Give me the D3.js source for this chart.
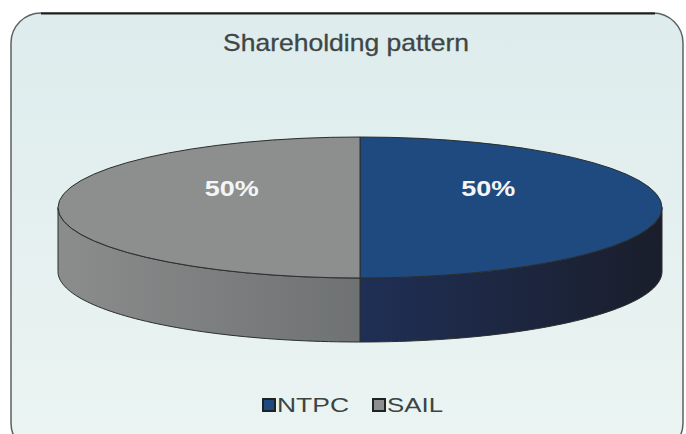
<!DOCTYPE html>
<html>
<head>
<meta charset="utf-8">
<script src="https://cdn.jsdelivr.net/npm/d3@7"></script>
<style>
  body { margin: 0; background: #fff; }
  svg { display: block; font-family: "Liberation Sans", Arial, sans-serif; }
</style>
</head>
<body>
<div id="vis"></div>
<script>
// chart data
let categories = ['NTPC', 'SAIL'];
let values = [50, 50];
let topColors = ['#1f4a80', '#8d8f8f'];
let sideColors = [['#1f2f55', '#1a1e2b'], ['#6f7272', '#8b8d8d']];
let title = 'Shareholding pattern';

let width = 686, height = 434;

let svg = d3.select('#vis')
    .append('svg')
    .attr('width', width)
    .attr('height', height);

let defs = svg.append('defs');

let bg = defs.append('linearGradient')
    .attr('id', 'bg')
    .attr('x1', 0).attr('y1', 0).attr('x2', 0).attr('y2', 1);
bg.append('stop').attr('offset', '0%').attr('stop-color', '#deeced');
bg.append('stop').attr('offset', '100%').attr('stop-color', '#ebf4f2');

// frame
svg.append('rect')
    .attr('x', 11)
    .attr('y', 13)
    .attr('width', 672)
    .attr('height', 440)
    .attr('rx', 30)
    .attr('fill', 'url(#bg)')
    .attr('stroke', '#5c6262')
    .attr('stroke-width', 1.5);

svg.append('path')
    .attr('d', 'M41,13.5 H655')
    .attr('stroke', '#1c1f1f')
    .attr('stroke-width', 2);

// title
svg.append('text')
    .attr('x', 346)
    .attr('y', 51)
    .attr('text-anchor', 'middle')
    .attr('font-size', 24)
    .attr('fill', '#3e4646')
    .attr('stroke', '#3e4646')
    .attr('stroke-width', 0.3)
    .attr('textLength', 246)
    .attr('lengthAdjust', 'spacingAndGlyphs')
    .text(title);

// 3d pie geometry
let cx = 360, cy = 207.5, rx = 302, ry = 70.5, depth = 64;

let pie = d3.pie().sort(null).startAngle(0).endAngle(2 * Math.PI);
let arcs = pie(values);

let px = a => cx + rx * Math.sin(a);
let py = a => cy - ry * Math.cos(a);

// side gradients
arcs.forEach(function(d, i) {
    let g = defs.append('linearGradient')
        .attr('id', 'side' + i)
        .attr('gradientUnits', 'userSpaceOnUse')
        .attr('x1', i === 0 ? cx : cx - rx)
        .attr('x2', i === 0 ? cx + rx : cx)
        .attr('y1', 0).attr('y2', 0);
    g.append('stop').attr('offset', '0%').attr('stop-color', i === 0 ? sideColors[i][0] : sideColors[i][1]);
    g.append('stop').attr('offset', '100%').attr('stop-color', i === 0 ? sideColors[i][1] : sideColors[i][0]);
});

// side walls (front half only)
let line = d3.line();
arcs.forEach(function(d, i) {
    let a0 = Math.max(d.startAngle, Math.PI / 2);
    let a1 = Math.min(d.endAngle, 3 * Math.PI / 2);
    if (a1 <= a0) return;
    let n = 60;
    let topPts = d3.range(n + 1).map(k => a0 + (a1 - a0) * k / n).map(a => [px(a), py(a)]);
    let botPts = topPts.slice().reverse().map(p => [p[0], p[1] + depth]);
    svg.append('path')
        .attr('d', line(topPts.concat(botPts)) + 'Z')
        .attr('fill', 'url(#side' + i + ')')
        .attr('stroke', '#2a2e2e')
        .attr('stroke-width', 1)
        .attr('stroke-linejoin', 'round');
});

// top face
let arc = d3.arc().innerRadius(0).outerRadius(rx);
svg.append('g')
    .attr('transform', 'translate(' + cx + ',' + cy + ') scale(1,' + (ry / rx) + ')')
    .selectAll('path')
    .data(arcs)
    .enter()
    .append('path')
    .attr('d', arc)
    .attr('fill', (d, i) => topColors[i])
    .attr('stroke', '#2a2e2e')
    .attr('stroke-width', 1)
    .attr('vector-effect', 'non-scaling-stroke');

// labels
let labelArc = d3.arc().innerRadius(0).outerRadius(rx * 0.85);
svg.selectAll('text.pct')
    .data(arcs)
    .enter()
    .append('text')
    .attr('class', 'pct')
    .attr('x', d => cx + labelArc.centroid(d)[0])
    .attr('y', cy - 12)
    .attr('text-anchor', 'middle')
    .attr('font-size', 22)
    .attr('font-weight', 'bold')
    .attr('fill', '#f4f6f6')
    .attr('textLength', 54)
    .attr('lengthAdjust', 'spacingAndGlyphs')
    .text(d => d.value + '%');

// legend
let legendX = d3.scalePoint().domain(categories).range([262, 372]);
let legend = svg.selectAll('g.legend')
    .data(categories)
    .enter()
    .append('g')
    .attr('class', 'legend')
    .attr('transform', d => 'translate(' + legendX(d) + ',398)');

legend.append('rect')
    .attr('x', 1)
    .attr('y', 1)
    .attr('width', 12)
    .attr('height', 12)
    .attr('fill', (d, i) => topColors[i])
    .attr('stroke', '#1e2222')
    .attr('stroke-width', 2);

legend.append('text')
    .attr('x', 15)
    .attr('y', 14)
    .attr('font-size', 20)
    .attr('fill', '#3c4444')
    .attr('textLength', (d, i) => i === 0 ? 72 : 56)
    .attr('lengthAdjust', 'spacingAndGlyphs')
    .text(d => d);
</script>
</body>
</html>
